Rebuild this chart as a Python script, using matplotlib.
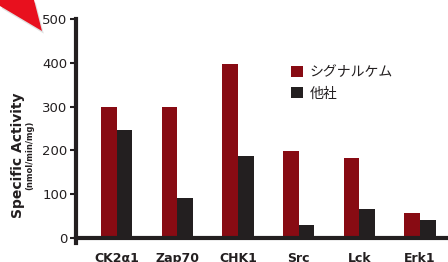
import numpy as np
import matplotlib.pyplot as plt
from matplotlib.patches import Polygon

plt.rcParams['font.family'] = ['DejaVu Sans', 'Noto Sans CJK JP']

kinases = ['CK2α1', 'Zap70', 'CHK1', 'Src', 'Lck', 'Erk1']
signalchem = [300, 300, 397, 199, 182, 56]
others = [246, 91, 187, 30, 67, 42]
yticks = [0, 100, 200, 300, 400, 500]

red = '#880b13'
dark = '#231f20'

fig = plt.figure(figsize=(4.48, 2.62), dpi=100)
ax = fig.add_axes([76 / 448, 1 - 238 / 262, 1 - 76 / 448, (238 - 19) / 262])

x = np.arange(len(kinases))
w = 0.26
ax.bar(x - w / 2, signalchem, w, color=red, label='シグナルケム', zorder=2)
ax.bar(x + w / 2, others, w, color=dark, label='他社', zorder=2)

ax.set_xlim(-0.67, 5.46)
ax.set_ylim(0, 500)
ax.set_yticks(yticks)
ax.set_xticks(x)
ax.set_xticklabels(kinases, fontsize=9, fontweight='bold', color=dark)
ax.tick_params(axis='x', length=0, pad=10)
ax.tick_params(axis='y', length=4, width=1.5, color=dark, labelcolor=dark,
               labelsize=9.5, pad=2)

for s in ['top', 'right']:
    ax.spines[s].set_visible(False)
ax.spines['left'].set_linewidth(3)
ax.spines['left'].set_color(dark)
ax.spines['left'].set_bounds(-12, 500)
ax.spines['bottom'].set_linewidth(3)
ax.spines['bottom'].set_color(dark)

leg = ax.legend(loc='upper left', bbox_to_anchor=(0.545, 0.845), frameon=False,
                handlelength=0.85, handleheight=0.85, handletextpad=0.5,
                labelspacing=0.5,
                prop={'family': ['Noto Sans CJK JP', 'DejaVu Sans'], 'size': 10})
for t in leg.get_texts():
    t.set_color(dark)

fig.text(18 / 448, 1 - 155 / 262, 'Specific Activity', rotation=90,
         ha='center', va='center', fontsize=10, fontweight='bold', color=dark)
fig.text(30 / 448, 1 - 155 / 262, '(nmol/min/mg)', rotation=90,
         ha='center', va='center', fontsize=6, fontweight='bold', color=dark)

# red arrow decoration in the corner
W, H = 448, 262
pts = [(0, 0), (34, 0), (42, 31), (0, 6)]
shadow = Polygon([(px / W + 0.004, 1 - py / H - 0.01) for px, py in pts],
                 closed=True, transform=fig.transFigure, color='#cccccc',
                 alpha=0.6, lw=0)
arrow = Polygon([(px / W, 1 - py / H) for px, py in pts], closed=True,
                transform=fig.transFigure, color='#e8101e', lw=0)
fig.patches.extend([shadow, arrow])

fig.savefig('out.png', dpi=100)
